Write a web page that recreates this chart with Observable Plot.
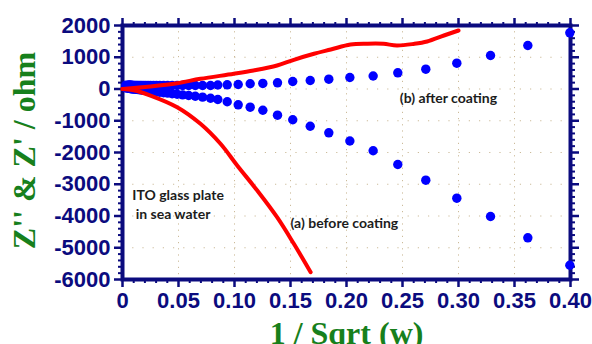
<!DOCTYPE html>
<html><head><meta charset="utf-8">
<script src="https://cdn.jsdelivr.net/npm/d3@7"></script>
<script src="https://cdn.jsdelivr.net/npm/@observablehq/plot@0.6"></script>
<style>html,body{margin:0;padding:0;background:#fff;} #chart svg{display:block;overflow:hidden}</style>
</head><body><div id="chart"></div>
<script>
// (b) after coating: blue dots, shared x = 1/sqrt(w)
const afterX = [0.003, 0.005, 0.0055, 0.006, 0.0066, 0.0073, 0.008, 0.0088, 0.0097, 0.0106, 0.0117, 0.0129, 0.0141, 0.0156, 0.0171, 0.0188, 0.0207, 0.0228, 0.025, 0.0276, 0.0303, 0.0333, 0.0367, 0.0403, 0.0444, 0.0488, 0.0537, 0.0591, 0.065, 0.0715, 0.0786, 0.0851, 0.0935, 0.1033, 0.114, 0.1253, 0.1384, 0.152, 0.1676, 0.1842, 0.203, 0.2238, 0.2458, 0.2708, 0.2985, 0.3286, 0.3619, 0.3994];
const afterZre = [120, 118, 118, 117, 117, 116, 116, 115, 115, 115, 114, 114, 113, 113, 112, 112, 112, 111, 111, 111, 110, 110, 110, 110, 110, 110, 110, 110, 110, 110, 110, 125, 132, 142, 165, 175, 195, 236, 268, 309, 362, 409, 510, 624, 813, 1055, 1370, 1770];
const afterZim = [30, 25, 22, 20, 17, 14, 10, 6, 2, -3, -8, -13, -19, -25, -32, -39, -47, -56, -66, -77, -89, -102, -116, -131, -148, -166, -185, -206, -229, -255, -290, -331, -403, -498, -573, -668, -825, -970, -1172, -1380, -1638, -1946, -2378, -2872, -3439, -4016, -4687, -5550];

// (a) before coating: red lines
const beforeReX = [0, 0.025, 0.0488, 0.0696, 0.0994, 0.117, 0.138, 0.153, 0.171, 0.186, 0.2036, 0.2185, 0.233, 0.245, 0.26, 0.272, 0.287, 0.300];
const beforeReY = [0, 80, 183, 321, 479, 583, 740, 920, 1109, 1244, 1402, 1427, 1424, 1370, 1420, 1496, 1685, 1843];
const beforeImX = [0, 0.01, 0.025, 0.0488, 0.0696, 0.0875, 0.1024, 0.1203, 0.138, 0.153, 0.168];
const beforeImY = [0, -40, -205, -573, -1096, -1726, -2409, -3197, -4038, -4876, -5770];

const xTicks = [0, 0.05, 0.10, 0.15, 0.20, 0.25, 0.30, 0.35, 0.40];
const xTickLabels = ["0", "0.05", "0.10", "0.15", "0.20", "0.25", "0.30", "0.35", "0.40"];
const yTicks = [2000, 1000, 0, -1000, -2000, -3000, -4000, -5000, -6000];
const yTickLabels = ["2000", "1000", "0", "-1000", "-2000", "-3000", "-4000", "-5000", "-6000"];

const xTitle = "1 / Sqrt (w)";
const yTitle = "Z'' & Z' / ohm";
const noteTexts = ["ITO glass plate", " in sea water", "(a) before coating", "(b) after coating"];
const noteX = [0.0087, 0.0087, 0.150, 0.2476];
const noteY = [-3354, -3953, -4227, -290];

const navy = "#0b0b7e";
const green = "#17801c";
const tickFont = "Liberation Sans Narrow, Arial Narrow, Liberation Sans, sans-serif";
const afterRows = afterX.map((x, i) => ({x, re: afterZre[i], im: afterZim[i]}));
const reRows = beforeReX.map((x, i) => ({x, y: beforeReY[i]}));
const imRows = beforeImX.map((x, i) => ({x, y: beforeImY[i]}));
const notes = noteTexts.map((t, i) => ({t, x: noteX[i], y: noteY[i]}));
const minorX = d3.range(0, 41).map(d => d / 100).filter(d => Math.round(d * 100) % 5 !== 0);
const minorY = d3.range(-30, 11).map(d => d * 200).filter(d => d % 1000 !== 0);
const fx = d => xTickLabels[xTicks.findIndex(t => Math.abs(t - d) < 1e-9)];
const fy = d => yTickLabels[yTicks.indexOf(d)];
const axisStyle = {stroke: navy, fill: navy, strokeWidth: 2.5, label: null};

const chart = Plot.plot({
  width: 592, height: 344,
  marginTop: 25, marginRight: 22, marginBottom: 65, marginLeft: 122,
  x: {type: "linear", domain: [0, 0.4], label: null},
  y: {type: "linear", domain: [-6000, 2000], label: null},
  style: {fontFamily: tickFont, fontWeight: "bold", fontSize: "22px", background: "#fff"},
  marks: [
    Plot.gridX(xTicks.filter(d => d > 0 && d < 0.4), {stroke: "#c6b48f", strokeOpacity: 0.9, strokeWidth: 1, strokeDasharray: "1.2,5"}),
    Plot.gridY(yTicks.filter(d => d > -6000 && d < 2000), {stroke: "#c6b48f", strokeOpacity: 0.9, strokeWidth: 1, strokeDasharray: "1.2,9"}),
    Plot.axisX(xTicks, {anchor: "bottom", tickSize: 8, tickPadding: 5, tickFormat: fx, ...axisStyle, fontSize: 22, fontWeight: "bold", fontFamily: tickFont}),
    Plot.axisX(minorX, {anchor: "bottom", tickSize: 4, text: null, ...axisStyle, strokeWidth: 2}),
    Plot.axisX(xTicks, {anchor: "top", tickSize: 8, text: null, ...axisStyle}),
    Plot.axisX(minorX, {anchor: "top", tickSize: 4, text: null, ...axisStyle, strokeWidth: 2}),
    Plot.axisY(yTicks, {anchor: "left", tickSize: 8, tickPadding: 4, tickFormat: fy, ...axisStyle, fontSize: 22, fontWeight: "bold", fontFamily: tickFont}),
    Plot.axisY(minorY, {anchor: "left", tickSize: 4, text: null, ...axisStyle, strokeWidth: 2}),
    Plot.axisY(yTicks, {anchor: "right", tickSize: 8, text: null, ...axisStyle}),
    Plot.axisY(minorY, {anchor: "right", tickSize: 4, text: null, ...axisStyle, strokeWidth: 2}),
    Plot.frame({stroke: navy, strokeWidth: 4}),
    Plot.dot(afterRows, {x: "x", y: "re", r: 4.7, fill: "#0000ff", stroke: "none"}),
    Plot.dot(afterRows, {x: "x", y: "im", r: 4.7, fill: "#0000ff", stroke: "none"}),
    Plot.line(reRows, {x: "x", y: "y", stroke: "#ff0000", strokeWidth: 4, curve: "catmull-rom"}),
    Plot.line(imRows, {x: "x", y: "y", stroke: "#ff0000", strokeWidth: 4, curve: "catmull-rom"}),
    Plot.text(notes, {x: "x", y: "y", text: "t", textAnchor: "start", fill: "#1c1c1c", fontFamily: "Lato, Open Sans, sans-serif", fontWeight: "bold", fontSize: 14}),
    Plot.text([xTitle], {frameAnchor: "bottom", textAnchor: "middle", lineAnchor: "middle", dy: 54, fill: green, fontFamily: "Liberation Serif, Times New Roman, serif", fontWeight: "bold", fontSize: 32}),
    Plot.text([yTitle], {frameAnchor: "left", textAnchor: "middle", lineAnchor: "middle", dx: -98, dy: -2, rotate: -90, fill: green, fontFamily: "Liberation Serif, Times New Roman, serif", fontWeight: "bold", fontSize: 32})
  ]
});
document.getElementById("chart").appendChild(chart);
</script>
</body></html>
